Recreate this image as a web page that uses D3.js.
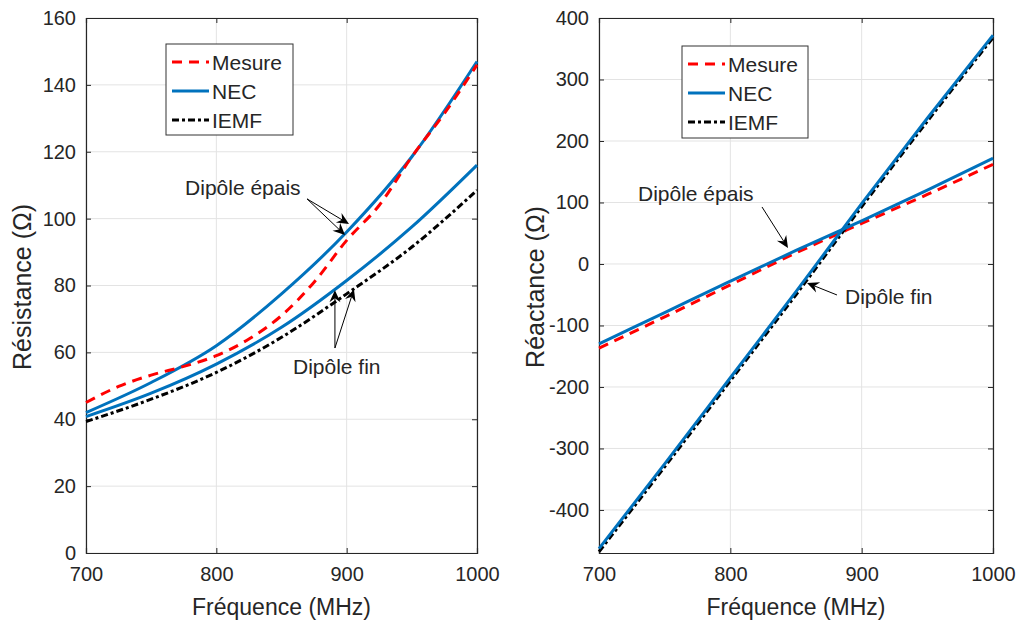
<!DOCTYPE html>
<html><head><meta charset="utf-8">
<script src="https://cdn.jsdelivr.net/npm/d3@7"></script>
<style>
body{margin:0;background:#fff;}
text{font-family:"Liberation Sans",Arial,sans-serif;fill:#262626;}
</style></head>
<body><svg id="c" width="1019" height="624"></svg>
<script>
// ---------- data ----------
const freqR = [700,725,750,775,800,825,850,875,900,925,950,975,1000];
const resMesure = [45.0,49.8,53.2,55.8,59.0,64.0,71.0,81.0,93.5,104.0,118.5,131.5,146.0];
const freq50 = [700,750,800,850,900,950,1000];
const resNecEpais = [42.0,51.0,62.0,77.5,96.0,118.5,147.0];
const resNecFin = [40.8,47.8,56.5,67.5,81.5,97.5,116.0];
const resIemfFin = [39.3,46.0,54.0,64.5,77.5,91.5,108.5];

const reaMesureEpais = [-137,-86,-34,18,66,113,162];
const reaNecEpais = [-130,-79,-28,22,70,120,172];
const reaNecFin = [-463,-325,-185,-45,98,237,372];
const reaIemfFin = [-468,-330,-190,-50,93,232,368];

const xTicks = [700,800,900,1000];
const resTicks = [0,20,40,60,80,100,120,140,160];
const reaTicks = [-400,-300,-200,-100,0,100,200,300,400];
const legendLabels = ["Mesure","NEC","IEMF"];

// annotations in data coords: text pos, arrow starts/ends
const annLeft = [
  {text:"Dipôle épais", tx:776, ty:109.4, arrows:[[869.6,105.9,901.8,98.4],[869.6,105.9,898.7,95.1]]},
  {text:"Dipôle fin", tx:858.8, ty:55.9, arrows:[[891,61.3,891,78.6],[891,61.3,905.6,78.9]]}
];
const annRight = [
  {text:"Dipôle épais", tx:729.7, ty:113.8, arrows:[[824.1,92.7,843.9,26]]},
  {text:"Dipôle fin", tx:887.3, ty:-53.7, arrows:[[881.2,-50.4,858.4,-30.9]]}
];

// ---------- drawing ----------
const svg = d3.select("#c");
const BLUE="#0072BD", RED="#FF0000", BLACK="#000000", AX="#262626";

function panel(opt){
  const g = svg.append("g");
  const x = d3.scaleLinear().domain([700,1000]).range([opt.x0,opt.x1]);
  const y = d3.scaleLinear().domain(opt.yDomain).range([553,18]);
  // grid
  g.selectAll(".gx").data(xTicks).join("line")
    .attr("x1",d=>x(d)).attr("x2",d=>x(d)).attr("y1",18).attr("y2",553)
    .attr("stroke","#e3e3e3").attr("stroke-width",1);
  g.selectAll(".gy").data(opt.yTicks).join("line")
    .attr("x1",opt.x0).attr("x2",opt.x1).attr("y1",d=>y(d)).attr("y2",d=>y(d))
    .attr("stroke","#e3e3e3").attr("stroke-width",1);
  // axes
  const xa = g.append("g").attr("transform","translate(0,553)")
    .call(d3.axisBottom(x).tickValues(xTicks).tickSize(-5).tickPadding(14).tickFormat(d3.format("d")));
  const xt = g.append("g").attr("transform","translate(0,18)")
    .call(d3.axisTop(x).tickValues(xTicks).tickSize(-5).tickFormat(""));
  const ya = g.append("g").attr("transform",`translate(${opt.x0},0)`)
    .call(d3.axisLeft(y).tickValues(opt.yTicks).tickSize(-5).tickPadding(10).tickFormat(d=>d<0?"-"+Math.abs(d):d));
  const yr = g.append("g").attr("transform",`translate(${opt.x1},0)`)
    .call(d3.axisRight(y).tickValues(opt.yTicks).tickSize(-5).tickFormat(""));
  [xa,xt,ya,yr].forEach(a=>{
    a.select(".domain").attr("stroke",AX).attr("stroke-width",1.2);
    a.selectAll(".tick line").attr("stroke",AX);
    a.selectAll("text").attr("font-size",20).attr("fill",AX)
      .attr("font-family","Liberation Sans, Arial, sans-serif");
  });
  // titles
  g.append("text").attr("x",(opt.x0+opt.x1)/2).attr("y",615).attr("text-anchor","middle")
    .attr("font-size",23).text("Fréquence (MHz)");
  g.append("text").attr("transform",`translate(${opt.ytx},287) rotate(-90)`)
    .attr("text-anchor","middle").attr("dominant-baseline","central")
    .attr("font-size",25).text(opt.ytitle);
  // lines
  const line = (xs,ys)=>d3.line().curve(d3.curveMonotoneX)
    .x((d,i)=>x(xs[i])).y(d=>y(d))(ys);
  opt.series.forEach(s=>{
    g.append("path").attr("d",line(s.xs,s.ys)).attr("fill","none")
      .attr("stroke",s.color).attr("stroke-width",s.w)
      .attr("stroke-dasharray",s.dash||null);
  });
  // legend
  const L = opt.legend;
  g.append("rect").attr("x",L.x).attr("y",L.y).attr("width",L.w).attr("height",L.h)
    .attr("fill","#fff").attr("stroke","#333").attr("stroke-width",1);
  const styles=[{c:RED,d:"10,7",w:3},{c:BLUE,d:null,w:3},{c:BLACK,d:"7,3,3,3",w:3}];
  legendLabels.forEach((lab,i)=>{
    const yy = L.y+18+i*29;
    g.append("line").attr("x1",L.x+6).attr("x2",L.x+43).attr("y1",yy).attr("y2",yy)
      .attr("stroke",styles[i].c).attr("stroke-width",styles[i].w).attr("stroke-dasharray",styles[i].d);
    g.append("text").attr("x",L.x+46).attr("y",yy).attr("dominant-baseline","central")
      .attr("font-size",21).attr("fill","#000").text(lab);
  });
  // annotations
  opt.ann.forEach(a=>{
    g.append("text").attr("x",x(a.tx)).attr("y",y(a.ty)).attr("dominant-baseline","central")
      .attr("font-size",21).attr("fill","#000").text(a.text);
    a.arrows.forEach(ar=>{
      const x1=x(ar[0]),y1=y(ar[1]),x2=x(ar[2]),y2=y(ar[3]);
      const ang=Math.atan2(y2-y1,x2-x1), L2=12, W=5.5, N=8;
      const ux=Math.cos(ang), uy=Math.sin(ang), px=-uy, py=ux;
      const bx=x2-ux*L2, by=y2-uy*L2, nx=x2-ux*N, ny=y2-uy*N;
      g.append("line").attr("x1",x1).attr("y1",y1).attr("x2",nx).attr("y2",ny)
        .attr("stroke","#000").attr("stroke-width",1);
      g.append("path").attr("d",`M${x2},${y2}L${bx+px*W},${by+py*W}L${nx},${ny}L${bx-px*W},${by-py*W}Z`)
        .attr("fill","#000");
    });
  });
}

panel({
  x0:86, x1:477, yDomain:[0,160], yTicks:resTicks, ytx:22, ytitle:"Résistance (Ω)",
  series:[
    {xs:freq50, ys:resNecEpais, color:BLUE, w:3},
    {xs:freq50, ys:resNecFin, color:BLUE, w:3},
    {xs:freqR, ys:resMesure, color:RED, w:3, dash:"10,7"},
    {xs:freq50, ys:resIemfFin, color:BLACK, w:3, dash:"7,3,3,3"}
  ],
  legend:{x:166, y:44, w:127, h:91},
  ann:annLeft
});
panel({
  x0:599, x1:993, yDomain:[-470,400], yTicks:reaTicks, ytx:535, ytitle:"Réactance (Ω)",
  series:[
    {xs:freq50, ys:reaMesureEpais, color:RED, w:3, dash:"10,7"},
    {xs:freq50, ys:reaIemfFin, color:BLACK, w:3, dash:"7,3,3,3"},
    {xs:freq50, ys:reaNecEpais, color:BLUE, w:3},
    {xs:freq50, ys:reaNecFin, color:BLUE, w:3}
  ],
  legend:{x:682, y:46, w:126, h:92},
  ann:annRight
});
</script></body></html>
